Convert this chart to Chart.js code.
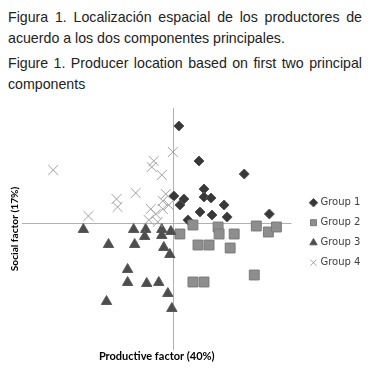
<!DOCTYPE html>
<html>
<head>
<meta charset="utf-8">
<script src="https://cdn.jsdelivr.net/npm/chart.js@4.4.0/dist/chart.umd.min.js"></script>
<style>
  html, body { margin: 0; padding: 0; background: #fff; }
  body { width: 369px; height: 369px; position: relative; overflow: hidden; }
  .cap { position: absolute; left: 8px; width: 354px; margin: 0;
         font-family: "Liberation Sans", Arial, sans-serif; font-size: 14.2px;
         line-height: 21px; color: #222; text-align: justify; }
  #p1 { top: 6.5px; }
  #p2 { top: 53px; }
  #wrap { position: absolute; left: 0; top: 100px; width: 369px; height: 269px; }
</style>
</head>
<body>
<p class="cap" id="p1">Figura 1. Localización espacial de los productores de acuerdo a los dos componentes principales.</p>
<p class="cap" id="p2">Figure 1. Producer location based on first two principal components</p>
<div id="wrap"><canvas id="c" width="369" height="269"></canvas></div>
<script>
// ---- data ----
const seriesNames = ['Group 1', 'Group 2', 'Group 3', 'Group 4'];
const xTitle = 'Productive factor (40%)';
const yTitle = 'Social factor (17%)';
const xRange = [-3.02, 2.34];
const yRange = [-2.52, 2.32];

const group1X = [0.10, 0.50, 1.40, 0.60, 0.00, 0.20, 0.12, 0.60, 0.74, 1.00, 0.52, 0.76, 1.06, 1.90, 0.28];
const group1Y = [1.96, 1.26, 1.00, 0.70, 0.56, 0.50, 0.38, 0.54, 0.52, 0.38, 0.24, 0.18, 0.14, 0.20, 0.08];

const group2X = [0.38, 0.12, 0.88, 0.90, 1.20, 1.64, 1.88, 2.04, 0.48, 0.70, 1.12, 1.60, 0.38, 0.60];
const group2Y = [-0.02, -0.20, -0.06, -0.20, -0.20, -0.04, -0.16, -0.06, -0.42, -0.42, -0.48, -1.02, -1.16, -1.16];

const group3X = [-1.80, -1.30, -0.80, -0.78, -0.56, -0.58, -0.24, -0.06, -0.24, -0.20, -0.08, -0.92, -0.92, -0.54, -0.30, -0.12, -1.34, -0.04];
const group3Y = [-0.11, -0.41, -0.11, -0.41, -0.11, -0.25, -0.11, -0.15, -0.23, -0.47, -0.61, -0.91, -1.17, -1.19, -1.17, -1.39, -1.55, -1.69];

const group4X = [-2.40, -1.70, -1.14, -1.12, -0.76, -0.40, -0.44, -0.24, -0.02, -0.16, -0.22, -0.22, -0.46, -0.36, -0.32, -0.10, -0.50];
const group4Y = [1.08, 0.16, 0.50, 0.34, 0.62, 1.26, 1.14, 0.98, 1.44, 0.60, 0.46, 0.30, 0.30, 0.20, 0.04, 0.38, 0.08];

const toPoints = (xs, ys) => xs.map((x, i) => ({ x: x, y: ys[i] }));

const datasets = [
  { label: seriesNames[0], data: toPoints(group1X, group1Y), pointStyle: 'rectRot', pointRadius: 5,
    backgroundColor: '#383838', borderColor: '#555555', borderWidth: 1, order: 4 },
  { label: seriesNames[1], data: toPoints(group2X, group2Y), pointStyle: 'rect', pointRadius: 7,
    backgroundColor: '#8e8e8e', borderColor: '#7a7a7a', borderWidth: 1, order: 3 },
  { label: seriesNames[2], data: toPoints(group3X, group3Y), pointStyle: 'triangle', pointRadius: 6,
    backgroundColor: '#4d4d4d', borderColor: '#5a5a5a', borderWidth: 1, order: 2 },
  { label: seriesNames[3], data: toPoints(group4X, group4Y), pointStyle: 'crossRot', pointRadius: 7,
    backgroundColor: '#a0a0a0', borderColor: '#a0a0a0', borderWidth: 1, order: 1 }
];

const zeroOnly = (scale) => { scale.ticks = [{ value: 0 }]; };

new Chart(document.getElementById('c'), {
  type: 'scatter',
  data: { datasets: datasets },
  options: {
    responsive: false,
    animation: false,
    devicePixelRatio: 1,
    layout: { padding: { left: 8.9, top: 8, right: 9, bottom: 0 } },
    plugins: {
      tooltip: { enabled: false },
      legend: {
        position: 'right',
        align: 'center',
        fullSize: false,
        title: { display: true, text: ' ', font: { size: 1 }, padding: 3.1 },
        labels: {
          usePointStyle: true,
          boxWidth: 4,
          boxHeight: 6,
          padding: 10,
          color: '#404040',
          font: { family: 'DejaVu Sans', size: 10 },
          sort: (a, b) => a.datasetIndex - b.datasetIndex
        }
      }
    },
    scales: {
      x: {
        type: 'linear', position: 'bottom', min: xRange[0], max: xRange[1],
        afterBuildTicks: zeroOnly,
        border: { display: false },
        grid: { drawTicks: false, color: '#b0b0b0', lineWidth: 1 },
        ticks: { display: false },
        title: { display: true, text: xTitle, color: '#000',
                 font: { family: 'Lato', weight: 'bold', size: 11 }, padding: { top: 0, bottom: 5.8 } }
      },
      y: {
        type: 'linear', position: 'left', min: yRange[0], max: yRange[1],
        afterBuildTicks: zeroOnly,
        border: { display: false },
        grid: { drawTicks: false, color: '#b0b0b0', lineWidth: 1 },
        ticks: { display: false },
        title: { display: true, text: yTitle, color: '#000',
                 font: { family: 'Lato', weight: 'bold', size: 10.2 }, padding: { top: 0, bottom: 0.9 } }
      },
      gap: {
        type: 'linear', position: 'right', display: true, min: 0, max: 1,
        border: { display: false }, grid: { display: false }, ticks: { display: false },
        afterFit: (s) => { s.width = 10; }
      }
    }
  }
});
</script>
</body>
</html>
